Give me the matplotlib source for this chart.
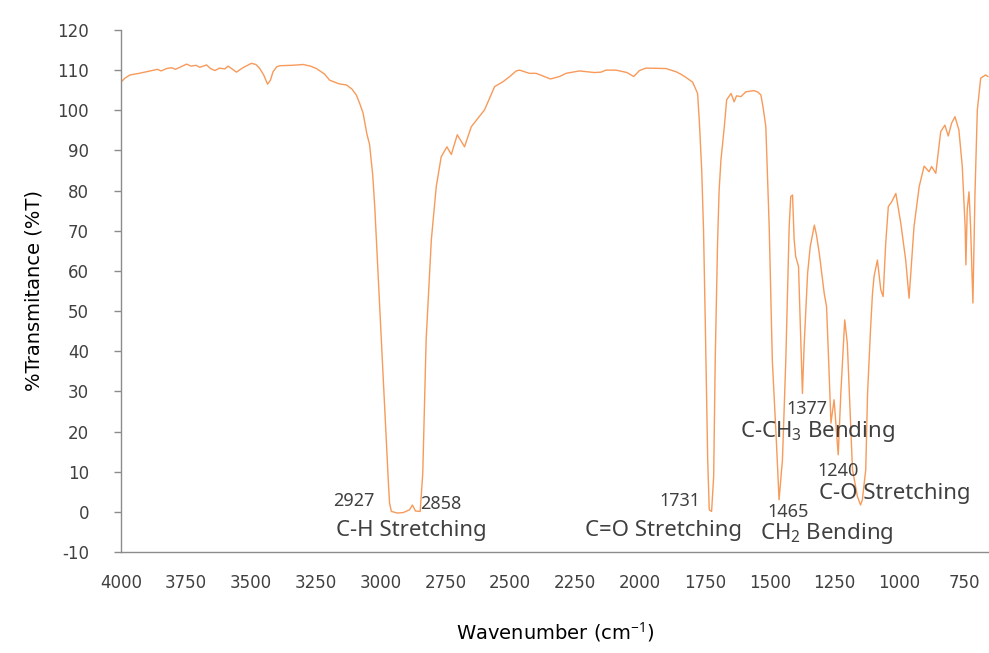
import matplotlib
matplotlib.use('Agg')
import matplotlib.pyplot as plt

# FTIR spectrum
wavenumber = [4000, 3985, 3965, 3930, 3901, 3880, 3860, 3845, 3824, 3805,
              3790, 3770, 3747, 3730, 3710, 3696, 3670, 3655, 3638, 3620,
              3600, 3587, 3570, 3555, 3530, 3497, 3480, 3465, 3450, 3435,
              3424, 3414, 3400, 3388, 3340, 3298, 3270, 3247, 3215, 3196,
              3160, 3131, 3110, 3093, 3080, 3067, 3052, 3042, 3030, 3022,
              3003, 2984, 2970, 2965, 2958, 2935, 2913, 2888, 2877, 2865,
              2847, 2837, 2824, 2804, 2785, 2766, 2744, 2727, 2704, 2676,
              2650, 2599, 2560, 2528, 2500, 2477, 2464, 2426, 2400, 2345,
              2310, 2285, 2233, 2176, 2150, 2131, 2092, 2050, 2024, 2002,
              1977, 1900, 1861, 1840, 1823, 1797, 1778, 1771, 1762, 1755,
              1748, 1739, 1733, 1724, 1716, 1710, 1701, 1695, 1688, 1675,
              1666, 1649, 1637, 1628, 1611, 1592, 1560, 1545, 1534, 1525,
              1515, 1502, 1490, 1474, 1464, 1451, 1438, 1425, 1419, 1412,
              1406, 1400, 1389, 1380, 1374, 1367, 1354, 1344, 1328, 1320,
              1309, 1290, 1281, 1273, 1264, 1252, 1236, 1226, 1211, 1201,
              1190, 1181, 1162, 1150, 1143, 1130, 1123, 1111, 1104, 1098,
              1085, 1072, 1063, 1053, 1043, 1030, 1014, 995, 976, 963,
              944, 924, 905, 886, 876, 860, 841, 825, 812, 799,
              786, 771, 758, 747, 744, 739, 732, 726, 717, 709,
              700, 687, 668, 659]
transmittance = [107.0, 108.0, 108.8, 109.2, 109.6, 109.9, 110.2, 109.8, 110.4, 110.6,
                 110.2, 110.8, 111.5, 111.0, 111.2, 110.7, 111.3, 110.4, 109.9, 110.5,
                 110.3, 111.0, 110.2, 109.5, 110.6, 111.7, 111.4, 110.4, 108.8, 106.5,
                 107.5, 109.6, 110.8, 111.1, 111.2, 111.4, 111.0, 110.4, 109.0, 107.5,
                 106.6, 106.3, 105.3, 103.8, 101.7, 99.3, 94.0, 91.5, 84.0, 76.0,
                 51.1, 26.2, 8.0, 2.2, 0.1, -0.3, -0.2, 0.5, 1.7, 0.2,
                 0.1, 9.6, 42.8, 67.7, 81.0, 88.4, 90.9, 89.0, 93.9, 90.9,
                 95.9, 100.1, 105.9, 107.1, 108.5, 109.8, 110.0, 109.2, 109.2, 107.8,
                 108.4, 109.2, 109.8, 109.4, 109.5, 110.0, 110.0, 109.4, 108.4, 109.9,
                 110.5, 110.4, 109.6, 108.9, 108.2, 107.0, 104.2, 97.0, 85.0, 70.0,
                 46.0, 13.0, 0.5, 0.1, 8.8, 37.8, 66.9, 80.0, 87.6, 95.9,
                 102.6, 104.2, 102.1, 103.6, 103.4, 104.6, 104.9, 104.5, 103.8, 100.5,
                 95.9, 71.0, 37.8, 17.1, 3.0, 12.9, 37.8, 71.0, 78.5, 78.9,
                 68.0, 63.6, 61.1, 42.0, 29.5, 42.0, 59.4, 66.0, 71.4, 69.0,
                 64.4, 54.4, 51.1, 37.8, 22.1, 27.9, 14.2, 29.5, 47.8, 42.0,
                 25.0, 10.5, 3.8, 1.7, 3.0, 10.5, 29.5, 46.1, 54.4, 58.6,
                 62.7, 55.3, 53.6, 66.9, 76.0, 77.2, 79.3, 71.9, 62.7, 53.2,
                 71.0, 81.0, 86.1, 84.7, 86.0, 84.3, 94.7, 96.3, 93.6, 96.8,
                 98.4, 95.1, 86.0, 71.0, 61.5, 75.2, 79.7, 71.0, 52.0, 79.3,
                 100.1, 108.0, 108.8, 108.4]

# peak labels: (text, wavenumber, %T, size)
peak_labels = [
    ('2927', 3103, 2.8, 13),
    ('2858', 2766, 2.0, 13),
    ('C-H Stretching', 2882, -4.6, 16),
    ('1731', 1845, 2.8, 13),
    ('C=O Stretching', 1911, -4.6, 16),
    ('1465', 1431, 0.0, 13),
    ('CH$_2$ Bending', 1280, -5.3, 16),
    ('1377', 1358, 25.7, 13),
    ('C-CH$_3$ Bending', 1315, 20.0, 16),
    ('1240', 1238, 10.2, 13),
    ('C-O Stretching', 1017, 4.5, 16),
]

plt.rcParams['font.family'] = ['DejaVu Sans']
plt.rcParams['mathtext.fontset'] = 'custom'
plt.rcParams['mathtext.rm'] = 'Noto Sans'
plt.rcParams['axes.unicode_minus'] = False

text_color = '#404040'
axis_color = '#8C8C8C'

fig = plt.figure(figsize=(9.89, 6.53), dpi=100)
ax = fig.add_axes([0.1223, 0.1547, 0.8777, 0.7994])

ax.plot(wavenumber, transmittance, color='#F79A5A', linewidth=1.0)

for txt, x, y, size in peak_labels:
    ax.text(x, y, txt, ha='center', va='center', fontsize=size,
            color=text_color, family='Noto Sans')

ax.set_xlim(4000, 655)
ax.set_ylim(-10, 120)
ax.set_xticks(range(4000, 651, -250))
ax.set_yticks(range(-10, 121, 10))

for side in ['top', 'right']:
    ax.spines[side].set_visible(False)
for side in ['left', 'bottom']:
    ax.spines[side].set_color(axis_color)
    ax.spines[side].set_linewidth(1.0)

ax.tick_params(axis='x', length=0, pad=16, labelsize=12, labelcolor=text_color)
ax.tick_params(axis='y', length=5, width=1.0, color=axis_color, pad=18,
               labelsize=12, labelcolor=text_color)

ax.set_xlabel('Wavenumber (cm$^{-1}$)', fontsize=14, color='black', labelpad=20)
ax.set_ylabel('%Transmitance (%T)', fontsize=14, color='black', labelpad=10)

fig.savefig('out.png', dpi=100)
